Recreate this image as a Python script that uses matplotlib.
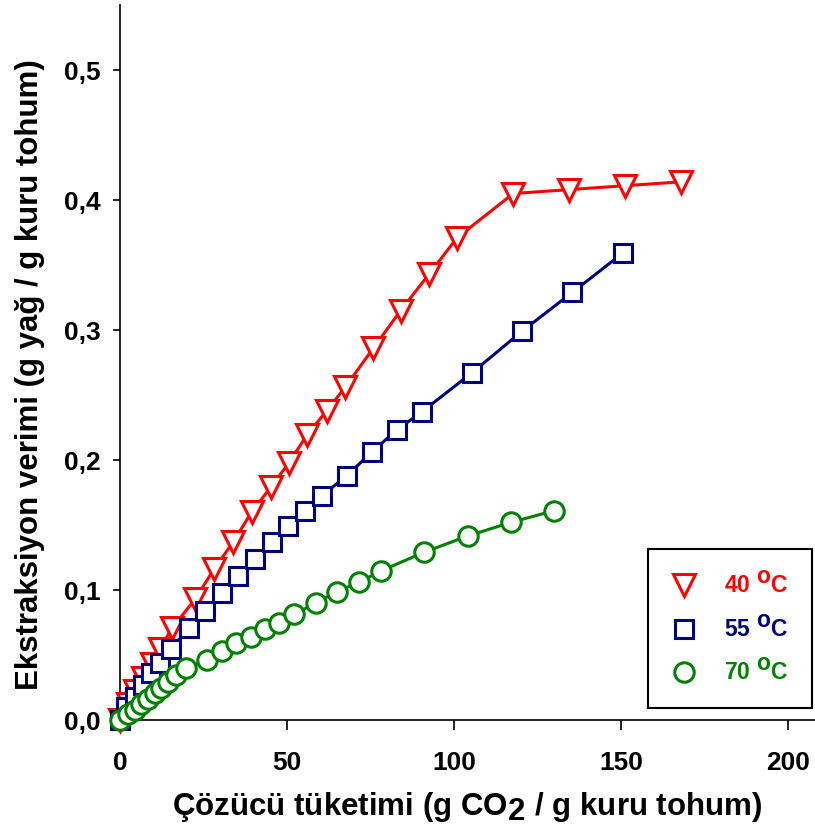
import matplotlib.pyplot as plt
import matplotlib._mathtext as mathtext
from matplotlib.lines import Line2D

plt.rcParams['font.family'] = ['Liberation Sans', 'DejaVu Sans']
plt.rcParams['font.weight'] = 'bold'
plt.rcParams['mathtext.fontset'] = 'custom'
plt.rcParams['mathtext.rm'] = 'Liberation Sans:bold'
plt.rcParams['mathtext.bf'] = 'Liberation Sans:bold'
# apici e pedici a grandezza piena (CO2, oC)
mathtext.SHRINK_FACTOR = 1.0

# 40 C
x_40 = [0, 2.3, 4.5, 7.0, 9.5, 12.0, 15.5, 22.5, 28.1, 33.9, 39.4, 45.1, 50.6, 55.9,
        61.9, 67.4, 75.8, 84.0, 92.5, 100.9, 117.7, 134.4, 151.2, 168.0]
y_40 = [0, 0.012, 0.022, 0.032, 0.043, 0.055, 0.0705, 0.093, 0.116, 0.137, 0.160, 0.179,
        0.198, 0.219, 0.238, 0.256, 0.286, 0.315, 0.343, 0.371, 0.405, 0.408, 0.411, 0.414]

# 55 C
x_55 = [0, 1.9, 4.4, 6.9, 9.4, 11.9, 15.2, 20.6, 25.4, 30.4, 35.4, 40.4, 45.4, 50.4,
        55.4, 60.4, 67.9, 75.3, 82.8, 90.3, 105.3, 120.3, 135.4, 150.4]
y_55 = [0, 0.010, 0.018, 0.027, 0.036, 0.044, 0.0546, 0.0705, 0.084, 0.098, 0.111, 0.124,
        0.137, 0.149, 0.161, 0.1725, 0.188, 0.206, 0.223, 0.237, 0.267, 0.299, 0.329, 0.359]

# 70 C
x_70 = [0, 2.4, 4.4, 6.4, 8.4, 10.4, 12.4, 14.4, 16.9, 19.9, 25.9, 30.4, 34.6, 39.1,
        43.4, 47.6, 52.1, 58.6, 64.9, 71.6, 78.0, 91.0, 104.0, 117.0, 129.9]
y_70 = [0, 0.005, 0.008, 0.012, 0.016, 0.0205, 0.0244, 0.0295, 0.0346, 0.0397, 0.046,
        0.053, 0.059, 0.064, 0.070, 0.075, 0.0813, 0.090, 0.0987, 0.106, 0.1146, 0.129,
        0.1415, 0.152, 0.161]

etichette = ['40 $^\\mathbf{o}$C', '55 $^\\mathbf{o}$C', '70 $^\\mathbf{o}$C']
colori = ['#ff0000', '#000080', '#008000']
marcatori = ['v', 's', 'o']
dimensioni = [16, 13, 14]

fig = plt.figure(figsize=(8.15, 8.34), dpi=100)
ax = fig.add_axes([120 / 815, 114 / 834, 695 / 815, 715 / 834])

serie = [(x_40, y_40), (x_55, y_55), (x_70, y_70)]
for (xs, ys), c, m, s in zip(serie, colori, marcatori, dimensioni):
    ax.plot(xs, ys, color=c, linewidth=2.2, marker=m, markersize=s,
            markerfacecolor='white', markeredgecolor=c, markeredgewidth=2.2,
            clip_on=False, zorder=3)

ax.set_xlim(0, 208)
ax.set_ylim(0, 0.55)
ax.set_xticks([0, 50, 100, 150, 200])
ax.set_yticks([0, 0.1, 0.2, 0.3, 0.4, 0.5])
ax.set_yticklabels(['0,0', '0,1', '0,2', '0,3', '0,4', '0,5'])
ax.spines['top'].set_visible(False)
ax.spines['right'].set_visible(False)
ax.spines['left'].set_linewidth(1.2)
ax.spines['bottom'].set_linewidth(1.2)
ax.tick_params(axis='x', length=7, width=1.2, pad=15, labelsize=19)
ax.tick_params(axis='y', length=5, width=1.2, pad=9, labelsize=19)

ax.set_xlabel('Çözücü tüketimi (g CO$_\\mathbf{2}$ / g kuru tohum)', fontsize=22.5,
              fontweight='bold')
ax.xaxis.set_label_coords(0.5, -0.098)
ax.set_ylabel('Ekstraksiyon verimi (g yağ / g kuru tohum)', fontsize=22.5,
              fontweight='bold')
ax.yaxis.set_label_coords(-0.108, 0.483)

maniglie = [Line2D([], [], linestyle='none', marker=m, markersize=s,
                   markerfacecolor='white', markeredgecolor=c, markeredgewidth=2.2)
            for c, m, s in zip(colori, marcatori, dimensioni)]
leg = ax.legend(maniglie, etichette, loc='lower right', bbox_to_anchor=(0.995, 0.017),
                fontsize=16.5, frameon=True, fancybox=False, framealpha=1,
                edgecolor='black', borderpad=1.0, labelspacing=0.75,
                handlelength=1.1, handletextpad=1.2, borderaxespad=0)
leg.get_frame().set_linewidth(1.5)
for t, c in zip(leg.get_texts(), colori):
    t.set_color(c)

fig.savefig('out.png', dpi=100)
